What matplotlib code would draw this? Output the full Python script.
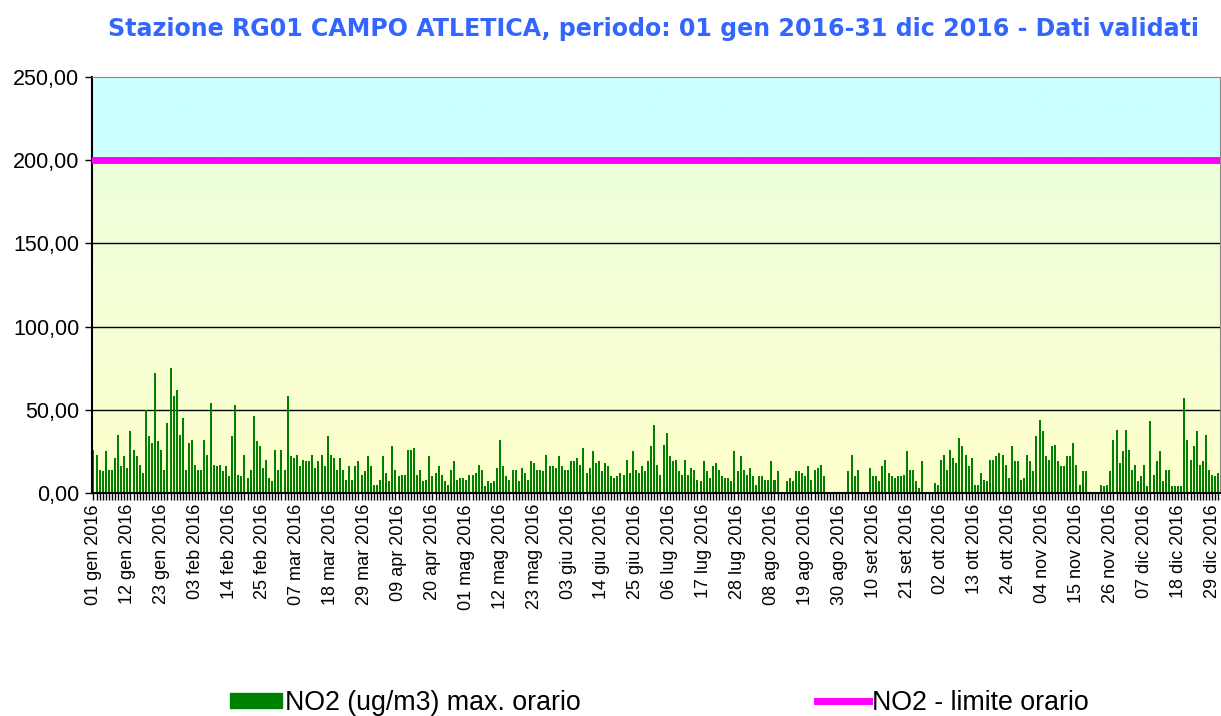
import numpy as np
import pandas as pd
import matplotlib
matplotlib.use("Agg")
import matplotlib.pyplot as plt
from matplotlib.patches import Patch
from matplotlib.lines import Line2D
from matplotlib.colors import to_rgb

plt.rcParams['font.family'] = ['Liberation Sans', 'DejaVu Sans']

N = np.nan
# daily max hourly NO2 (ug/m3), 2016, one list per month
gen = [26, 23, 14, 13, 25, 14, 14, 21, 35, 16, 22, 15, 37, 26, 22, 17, 12, 50, 34, 30, 72, 31, 26, 14, 42, 75, 58, 62, 35, 45, 14]
feb = [30, 32, 17, 14, 14, 32, 23, 54, 17, 16, 17, 13, 16, 10, 34, 53, 11, 10, 23, 9, 14, 46, 31, 28, 15, 20, 9, 7, 26]
mar = [14, 26, 14, 58, 22, 21, 23, 16, 20, 19, 19, 23, 15, 19, 23, 16, 34, 23, 21, 14, 21, 14, 8, 16, 8, 16, 19, 11, 13, 22, 16]
apr = [5, 5, 8, 22, 12, 7, 28, 14, 10, 11, 11, 26, 26, 27, 11, 14, 7, 8, 22, 10, 12, 16, 11, 7, 5, 14, 19, 8, 9, 9]
mag = [8, 11, 11, 12, 17, 14, 4, 7, 6, 7, 15, 32, 16, 10, 8, 14, 14, 7, 15, 12, 8, 19, 18, 14, 14, 13, 23, 16, 16, 15, 22]
giu = [16, 14, 14, 19, 19, 21, 17, 27, 12, 15, 25, 18, 19, 13, 18, 16, 10, 9, 10, 12, 11, 20, 12, 25, 14, 12, 16, 13, 19, 28]
lug = [41, 17, 11, 29, 36, 22, 19, 20, 13, 11, 20, 11, 15, 14, 8, 7, 19, 13, 9, 16, 18, 14, 10, 9, 9, 7, 25, 13, 22, 14, 11]
ago = [15, 10, 5, 10, 10, 8, 8, 19, 8, 13, N, N, 7, 9, 7, 13, 13, 12, 10, 16, 8, 14, 15, 17, 10, N, N, N, N, N, N]
set_ = [N, 13, 23, 10, 14, N, N, N, 15, 10, 10, 7, 16, 20, 12, 10, 9, 10, 10, 11, 25, 14, 14, 7, 3, 19, N, N, N, 6]
ott = [5, 20, 23, 14, 26, 21, 18, 33, 28, 23, 16, 21, 5, 5, 12, 8, 7, 20, 20, 22, 24, 23, 17, 9, 28, 19, 19, 8, 9, 23, 19]
nov = [13, 34, 44, 37, 22, 20, 28, 29, 19, 16, 16, 22, 22, 30, 17, 5, 13, 13, N, N, N, N, 5, 4, 5, 13, 32, 38, 18, 25]
dic = [38, 26, 14, 17, 7, 10, 17, 4, 43, 11, 19, 25, 7, 14, 14, 4, 4, 4, 4, 57, 32, 20, 28, 37, 17, 19, 35, 14, 11, 10, 12]

limite_orario = 200
month_names = ["gen", "feb", "mar", "apr", "mag", "giu", "lug", "ago", "set", "ott", "nov", "dic"]
yticks = [0, 50, 100, 150, 200, 250]

values = np.array(gen + feb + mar + apr + mag + giu + lug + ago + set_ + ott + nov + dic, dtype=float)
dates = pd.date_range("2016-01-01", "2016-12-31", freq="D")
labels = ["%02d %s %d" % (d.day, month_names[d.month - 1], d.year) for d in dates]
x = np.arange(len(dates))

fig = plt.figure(figsize=(12.21, 7.16), dpi=100)
ax = fig.add_axes([0.0753, 0.3115, 0.9237, 0.581])

# background: cyan band above the limit, soft green->yellow gradient below
ys = np.linspace(0, 250, 500)
top_c = np.array(to_rgb("#ccffff"))
low_c = np.array(to_rgb("#ffffcc"))
mid_c = np.array(to_rgb("#ecffdc"))
img = np.zeros((len(ys), 1, 3))
for i, yv in enumerate(ys):
    if yv > limite_orario:
        img[i, 0] = top_c
    else:
        t = yv / limite_orario
        img[i, 0] = low_c * (1 - t) + mid_c * t
ax.imshow(img, extent=[-0.5, len(x) - 0.5, 0, 250], origin="lower", aspect="auto", zorder=0)

for g in [50, 100, 150]:
    ax.axhline(g, color="black", lw=1, zorder=1)

ax.bar(x, values, width=0.65, color="#008000", zorder=2)
ax.axhline(limite_orario, color="#ff00ff", lw=5, zorder=3)

ax.set_xlim(-0.5, len(x) - 0.5)
ax.set_ylim(0, 250)
ax.set_yticks(yticks)
ax.set_yticklabels([("%.2f" % v).replace(".", ",") for v in yticks], fontsize=15.5)
ax.set_xticks(x[::11])
ax.set_xticklabels(labels[::11], rotation=90, fontsize=13)
ax.set_xticks(x, minor=True)
ax.tick_params(axis="x", which="both", length=5, width=1, pad=3)
ax.tick_params(axis="y", length=5, width=1, pad=4)

for s in ["top", "right"]:
    ax.spines[s].set_color("#888888")
ax.spines["left"].set_linewidth(1.5)
ax.spines["bottom"].set_linewidth(1.5)

fig.text(0.535, 0.96, "Stazione RG01 CAMPO ATLETICA, periodo: 01 gen 2016-31 dic 2016 - Dati validati",
         ha="center", va="center", fontsize=17.1, fontweight="bold", color="#3366ff",
         family="DejaVu Sans")

handles = [Patch(facecolor="#008000", edgecolor="#008000", label="NO2 (ug/m3) max. orario"),
           Line2D([0], [0], color="#ff00ff", lw=5, label="NO2 - limite orario")]
fig.legend(handles=handles, ncol=2, loc="center", bbox_to_anchor=(0.54, 0.018),
           frameon=False, fontsize=19.3, handlelength=1.95, handleheight=0.52,
           handletextpad=0.12, columnspacing=8.8, borderpad=0)

fig.savefig("out.png", dpi=100)
